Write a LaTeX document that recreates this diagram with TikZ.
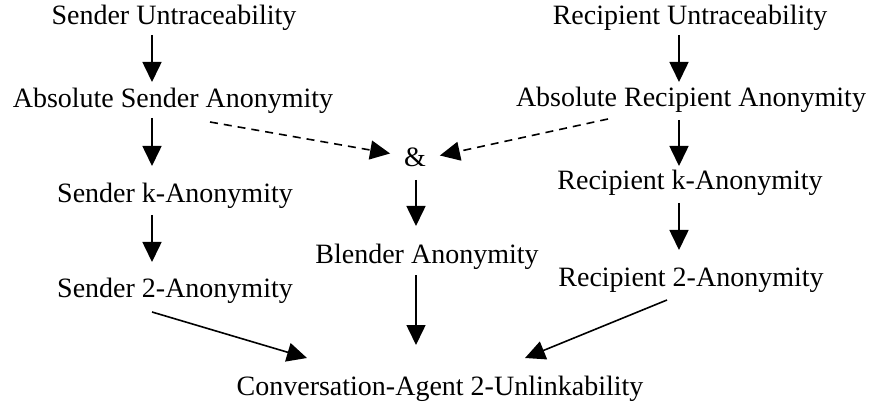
\documentclass[tikz,border=0pt]{standalone}
\usepackage{fontspec}
\setmainfont{Liberation Serif}
\usetikzlibrary{arrows.meta}
\begin{document}
\begin{tikzpicture}[x=1pt,y=-1pt,
  lbl/.style={anchor=base, inner sep=0pt, outer sep=0pt, text height=19pt, text depth=6pt,
    font=\fontsize{28}{34}\selectfont},
  arr/.style={line width=1.6pt, -{Triangle[length=20pt,width=19pt]}},
  darr/.style={arr, dash pattern=on 8pt off 6pt}]
\useasboundingbox (0,0) rectangle (873,406);
\coordinate (colS) at (152,0);
\coordinate (colR) at (679,0);
\coordinate (colM) at (416,0);
\node[lbl] (su)  at (174,25)  {Sender Untraceability};
\node[lbl] (asa) at (173,108) {Absolute Sender Anonymity};
\node[lbl] (ska) at (175,203) {Sender k-Anonymity};
\node[lbl] (s2a) at (175,298) {Sender 2-Anonymity};
\node[lbl] (ru)  at (690,25)  {Recipient Untraceability};
\node[lbl] (ara) at (691,107) {Absolute Recipient Anonymity};
\node[lbl] (rka) at (690,190) {Recipient k-Anonymity};
\node[lbl] (r2a) at (691,287) {Recipient 2-Anonymity};
\node[lbl] (amp) at (415,167) {\&};
\node[lbl] (ba)  at (427,263) {Blender Anonymity};
\node[lbl] (ca)  at (440,395) {Conversation-Agent 2-Unlinkability};
% vertical arrows
\draw[arr, shorten <=4pt, shorten >=7pt] (su.south -| colS) -- (asa.north -| colS);
\draw[arr, shorten <=4pt, shorten >=18pt] (asa.south -| colS) -- (ska.north -| colS);
\draw[arr, shorten <=6pt, shorten >=17pt] (ska.south -| colS) -- (s2a.north -| colS);
\draw[arr, shorten <=4pt, shorten >=6pt] (ru.south -| colR) -- (ara.north -| colR);
\draw[arr, shorten <=7pt, shorten >=5pt] (ara.south -| colR) -- (rka.north -| colR);
\draw[arr, shorten <=7pt, shorten >=18pt] (rka.south -| colR) -- (r2a.north -| colR);
\draw[arr, shorten <=7pt, shorten >=18pt] (amp.south -| colM) -- (ba.north -| colM);
\draw[arr, shorten <=6pt, shorten >=31pt] (ba.south -| colM) -- (ca.north -| colM);
% diagonal arrows
\draw[arr] ([xshift=-23pt,yshift=-8pt]s2a.south) -- ([xshift=-133pt,yshift=18pt]ca.north);
\draw[arr] ([xshift=-24pt,yshift=-7pt]r2a.south) -- ([xshift=85pt,yshift=18pt]ca.north);
% dashed arrows
\draw[darr] ([xshift=37pt,yshift=-8pt]asa.south) -- ([xshift=-14pt,yshift=7pt]amp.west);
\draw[darr] ([xshift=-83pt,yshift=-6pt]ara.south) -- ([xshift=14pt,yshift=5pt]amp.east);
\end{tikzpicture}
\end{document}
